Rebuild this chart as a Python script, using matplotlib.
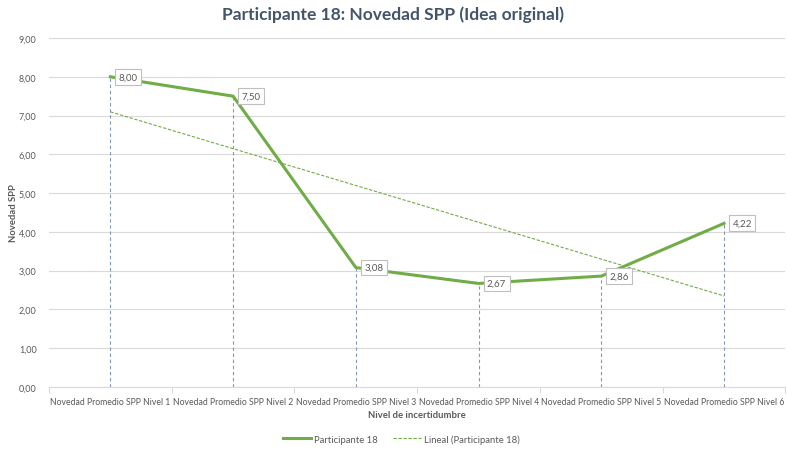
import numpy as np
import matplotlib.pyplot as plt
from matplotlib.ticker import FixedLocator, FuncFormatter

plt.rcParams['font.family'] = ['Lato', 'DejaVu Sans']

niveles = ['Novedad Promedio SPP Nivel 1', 'Novedad Promedio SPP Nivel 2',
           'Novedad Promedio SPP Nivel 3', 'Novedad Promedio SPP Nivel 4',
           'Novedad Promedio SPP Nivel 5', 'Novedad Promedio SPP Nivel 6']
novedad = [8.00, 7.50, 3.08, 2.67, 2.86, 4.22]

verde = '#70AD47'
gris_txt = '#595959'
rejilla = '#D9D9D9'

x = np.arange(len(niveles))
y = np.array(novedad)

# tendencia lineal (minimos cuadrados sobre la posicion 1..6)
m, b = np.polyfit(x + 1, y, 1)
tendencia = m * (x + 1) + b

fig = plt.figure(figsize=(7.87, 4.52), dpi=100)
ax = fig.add_axes([0.0623, 0.1416, 0.9357, 0.7721])

ax.set_xlim(-0.5, len(niveles) - 0.5)
ax.set_ylim(0, 9)

# lineas de caida hasta el eje
for xi, yi in zip(x, y):
    ax.plot([xi, xi], [0, yi], color='#8497B0', lw=0.8, ls=(0, (3, 2.5)), zorder=2)

ax.plot(x, tendencia, color=verde, lw=0.8, ls=(0, (3, 1.5)), zorder=3,
        label='Lineal (Participante 18)')
ax.plot(x, y, color=verde, lw=2.2, zorder=4, label='Participante 18')

for xi, yi in zip(x, y):
    ax.annotate('{:.2f}'.format(yi).replace('.', ','), (xi, yi),
                xytext=(6, 0), textcoords='offset points', ha='left', va='center',
                fontsize=7, color=gris_txt, zorder=5,
                bbox=dict(boxstyle='square,pad=0.35', fc='white', ec='#BFBFBF', lw=0.8))

ax.set_yticks(np.arange(0, 10, 1))
ax.yaxis.set_major_formatter(FuncFormatter(lambda v, p: '{:.2f}'.format(v).replace('.', ',')))
ax.grid(axis='y', color=rejilla, lw=0.8)
ax.set_axisbelow(True)

ax.set_xticks(x)
ax.set_xticklabels(niveles)
ax.xaxis.set_minor_locator(FixedLocator(np.arange(-0.5, len(niveles), 1)))
ax.tick_params(axis='x', which='major', length=0, pad=7, labelsize=6.2, colors=gris_txt)
ax.tick_params(axis='x', which='minor', length=4, color=rejilla, width=0.8)
ax.tick_params(axis='y', length=0, pad=9, labelsize=6.5, colors=gris_txt)

for s in ['top', 'right', 'left']:
    ax.spines[s].set_visible(False)
ax.spines['bottom'].set_color(rejilla)
ax.spines['bottom'].set_linewidth(0.8)

ax.set_xlabel('Nivel de incertidumbre', fontsize=6.8, fontweight='bold', color=gris_txt, labelpad=3)
ax.set_ylabel('Novedad SPP', fontsize=6.8, fontweight='bold', color=gris_txt)
ax.yaxis.set_label_coords(-0.042, 0.5)

fig.suptitle('Participante 18: Novedad SPP (Idea original)', x=0.5, y=0.985,
             fontsize=12.5, fontweight='bold', color='#44546A')

handles, labels = ax.get_legend_handles_labels()
fig.legend(handles[::-1], labels[::-1], loc='center', bbox_to_anchor=(0.51, 0.027), ncol=2,
           frameon=False, fontsize=6.8, labelcolor=gris_txt, handlelength=3.0,
           columnspacing=1.6, handletextpad=0.3)

fig.savefig('out.png', dpi=100)
